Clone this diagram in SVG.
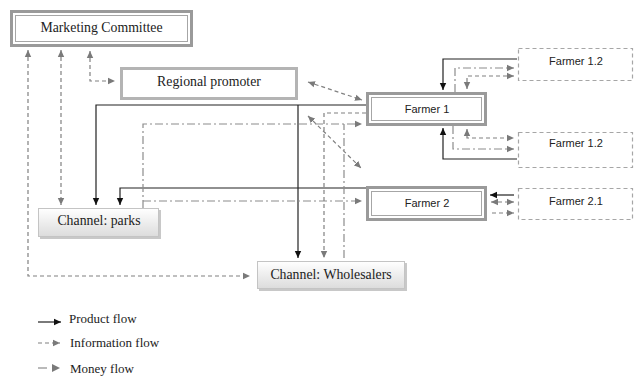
<svg xmlns="http://www.w3.org/2000/svg" width="634" height="376" viewBox="0 0 634 376">
<style>
.serif{font-family:"Liberation Serif","Times New Roman",serif;font-size:13.8px;fill:#222;text-anchor:middle}
.sans{font-family:"Liberation Sans",Arial,sans-serif;font-size:11px;fill:#222;text-anchor:middle}
.leg{font-family:"Liberation Serif","Times New Roman",serif;font-size:13px;fill:#222}
.prod{fill:none;stroke:#222;stroke-width:1.2}
.info{fill:none;stroke:#808080;stroke-width:1.2;stroke-dasharray:4 3}
.money{fill:none;stroke:#8c8c8c;stroke-width:1.2;stroke-dasharray:8 3 2 3}
.dbl-o{fill:#fff;stroke:#9a9a9a;stroke-width:3}
.dbl-i{fill:none;stroke:#a6a6a6;stroke-width:1}
.dash-box{fill:#fff;stroke:#a6a6a6;stroke-width:1.2;stroke-dasharray:4 3}
.chan{fill:url(#grad);stroke:#c4c4c4;stroke-width:1}
.shadow{fill:#c8c8c8}
</style>
<defs>
<linearGradient id="grad" x1="0" y1="0" x2="0" y2="1">
<stop offset="0" stop-color="#ffffff"/>
<stop offset="1" stop-color="#dcdcdc"/>
</linearGradient>
<marker id="ab" markerUnits="userSpaceOnUse" markerWidth="8" markerHeight="8" refX="7" refY="4" orient="auto-start-reverse">
<path d="M0,0.8 L7,4 L0,7.2 z" fill="#111"/>
</marker>
<marker id="ag" markerUnits="userSpaceOnUse" markerWidth="8" markerHeight="8" refX="7" refY="4" orient="auto-start-reverse">
<path d="M0,0.8 L7,4 L0,7.2 z" fill="#7a7a7a"/>
</marker>
</defs>

<g id="connectors">
<!-- Marketing committee info flows -->
<path class="info" d="M28,50 V276 H250" marker-start="url(#ag)" marker-end="url(#ag)"/>
<path class="info" d="M61,50 V205" marker-start="url(#ag)" marker-end="url(#ag)"/>
<path class="info" d="M90,51 V81 H115" marker-start="url(#ag)" marker-end="url(#ag)"/>
<!-- RP <-> Farmer 1 -->
<path class="info" d="M308,82 L362,100" marker-start="url(#ag)" marker-end="url(#ag)"/>
<!-- diagonal to Farmer 2 -->
<path class="info" d="M308,116 L361,168" marker-start="url(#ag)" marker-end="url(#ag)"/>
<!-- Product flow Farmer 1 to channels -->
<path class="prod" d="M366,105 H96 V205" marker-end="url(#ab)"/>
<path class="prod" d="M298,105 V258" marker-end="url(#ab)"/>
<!-- Product flow Farmer 2 to parks -->
<path class="prod" d="M366,188 H120 V205" marker-end="url(#ab)"/>
<!-- Money flows from parks -->
<path class="money" d="M143,208 V124 H362" marker-end="url(#ag)"/>
<path class="money" d="M143,201 H362" marker-end="url(#ag)"/>
<!-- Wholesalers -->
<path class="info" d="M366,113 H324 V258" marker-end="url(#ag)"/>
<path class="money" d="M344,258 V124"/>
<!-- Farmer 1 <-> Farmer 1.2 top -->
<path class="prod" d="M517,59 H443 V90" marker-end="url(#ab)"/>
<path class="money" d="M455,92 V68 H514" marker-end="url(#ag)"/>
<path class="info" d="M467,89 V76 H514" marker-start="url(#ag)" marker-end="url(#ag)"/>
<!-- Farmer 1 <-> Farmer 1.2 bottom -->
<path class="prod" d="M517,159 H443 V128" marker-end="url(#ab)"/>
<path class="info" d="M467,129 V138 H514" marker-start="url(#ag)" marker-end="url(#ag)"/>
<path class="money" d="M453,126 V149 H514" marker-end="url(#ag)"/>
<!-- Farmer 2 <-> Farmer 2.1 -->
<path class="prod" d="M514,195 H490" marker-end="url(#ab)"/>
<path class="info" d="M491,202 H514" marker-start="url(#ag)" marker-end="url(#ag)"/>
<path class="info" d="M492,213 H514" marker-end="url(#ag)"/>
</g>

<g id="marketing-committee">
<rect class="dbl-o" x="11.5" y="11.5" width="180" height="34"/>
<rect class="dbl-i" x="15.5" y="15.5" width="172" height="26"/>
<text class="serif" x="101.5" y="32">Marketing Committee</text>
</g>

<g id="regional-promoter">
<rect x="121.5" y="68.5" width="175" height="30" fill="#fff" stroke="#b4b4b4" stroke-width="3"/>
<text class="serif" x="209" y="86">Regional promoter</text>
</g>

<g id="farmer-1">
<rect class="dbl-o" x="367.5" y="93.5" width="118" height="31"/>
<rect class="dbl-i" x="371.5" y="97.5" width="110" height="23"/>
<text class="sans" x="427" y="113">Farmer 1</text>
</g>

<g id="farmer-2">
<rect class="dbl-o" x="367.5" y="187.5" width="118" height="32"/>
<rect class="dbl-i" x="371.5" y="191.5" width="110" height="24"/>
<text class="sans" x="427" y="207">Farmer 2</text>
</g>

<g id="farmer-1-2-top">
<rect class="dash-box" x="518.5" y="48.5" width="114" height="32"/>
<text class="sans" x="576" y="65">Farmer 1.2</text>
</g>

<g id="farmer-1-2-bottom">
<rect class="dash-box" x="518.5" y="132.5" width="114" height="35"/>
<text class="sans" x="576" y="147">Farmer 1.2</text>
</g>

<g id="farmer-2-1">
<rect class="dash-box" x="518.5" y="188.5" width="114" height="31"/>
<text class="sans" x="576" y="205">Farmer 2.1</text>
</g>

<g id="channel-parks">
<rect class="shadow" x="40" y="210" width="121" height="29"/>
<rect class="chan" x="38.5" y="208.5" width="120" height="28"/>
<text class="serif" x="99" y="225">Channel: parks</text>
</g>

<g id="channel-wholesalers">
<rect class="shadow" x="259" y="263" width="148" height="28"/>
<rect class="chan" x="257.5" y="261.5" width="147" height="27"/>
<text class="serif" x="331" y="279">Channel: Wholesalers</text>
</g>

<g id="legend">
<path class="prod" d="M38,322 H61" marker-end="url(#ab)"/>
<text class="leg" x="69" y="323">Product flow</text>
<path class="info" d="M38,343 H60" marker-end="url(#ag)"/>
<text class="leg" x="70" y="347">Information flow</text>
<path d="M38,368 H47" fill="none" stroke="#8c8c8c" stroke-width="1.2"/>
<path d="M52,364 L60,368 L52,372 z" fill="#7a7a7a"/>
<text class="leg" x="70" y="373">Money flow</text>
</g>
</svg>
